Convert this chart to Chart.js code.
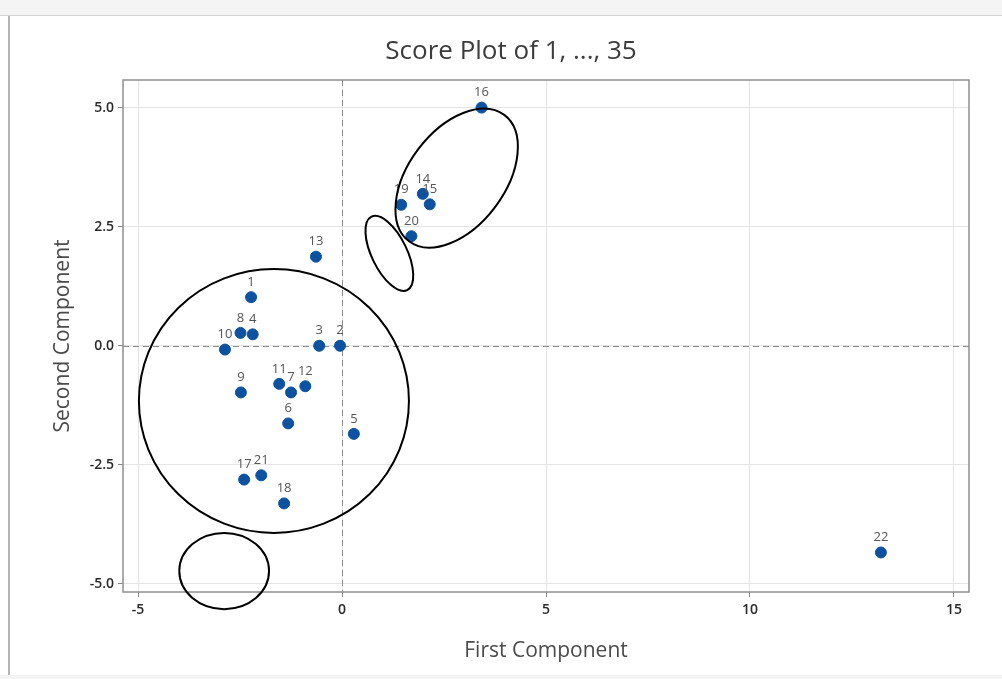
<!DOCTYPE html>
<html>
<head>
<meta charset="utf-8">
<script src="https://cdn.jsdelivr.net/npm/chart.js@4"></script>
<style>
  body { margin: 0; background: #fff; width: 1002px; height: 679px; overflow: hidden; position: relative; }
  .strip-top { position: absolute; left: 0; top: 0; width: 1002px; height: 15px; background: #f4f4f4; border-bottom: 1px solid #d2d2d2; }
  .edge-left { position: absolute; left: 8px; top: 16px; width: 2px; height: 659px; background: #b4b4b4; }
  .strip-bottom { position: absolute; left: 0; top: 675px; width: 1002px; height: 4px; background: #f4f4f4; }
  canvas { position: absolute; left: 0; top: 0; }
</style>
</head>
<body>
<div class="strip-top"></div>
<div class="edge-left"></div>
<div class="strip-bottom"></div>
<canvas id="myChart" width="1002" height="679"></canvas>
<script>
const obsLabels = ['1', '2', '3', '4', '5', '6', '7', '8', '9', '10', '11',
  '12', '13', '14', '15', '16', '17', '18', '19', '20', '21', '22'];
const firstComponent = [-2.23, -0.05, -0.56, -2.19, 0.29, -1.32, -1.25, -2.49, -2.48, -2.87, -1.54,
  -0.90, -0.64, 1.98, 2.15, 3.42, -2.40, -1.42, 1.45, 1.70, -1.98, 13.21];
const secondComponent = [1.02, 0.0, 0.0, 0.24, -1.85, -1.63, -0.98, 0.27, -0.98, -0.08, -0.80,
  -0.85, 1.87, 3.19, 2.97, 5.0, -2.81, -3.31, 2.96, 2.30, -2.72, -4.34];
const xTicks = [-5, 0, 5, 10, 15];
const yTicks = [-5, -2.5, 0, 2.5, 5];

// hand-drawn rings on the original (centre in data units, radii in axis units)
const rings = [
  { x: -1.67, y: -1.16, rx: 3.31, ry: 2.77, angle: 0 },
  { x: -2.89, y: -4.73, rx: 1.10, ry: 0.80, angle: 0 },
  { x: 2.81, y: 3.52, rx: 1.94, ry: 1.01, angle: -53 },
  { x: 1.16, y: 1.94, rx: 1.00, ry: 0.37, angle: 64 }
];

const fontFamily = "'Open Sans', 'Noto Sans', sans-serif";

const points = firstComponent.map((v, i) => ({ x: v, y: secondComponent[i] }));

const plotExtras = {
  id: 'plotExtras',
  beforeDatasetsDraw(chart) {
    const { ctx, chartArea: a, scales: { x, y } } = chart;
    ctx.save();
    // reference lines at zero
    ctx.strokeStyle = '#8c8c8c';
    ctx.lineWidth = 1;
    ctx.setLineDash([6, 4]);
    const x0 = Math.round(x.getPixelForValue(0)) + 0.5;
    const y0 = Math.round(y.getPixelForValue(0)) + 0.5;
    ctx.beginPath();
    ctx.moveTo(x0, a.top);
    ctx.lineTo(x0, a.bottom);
    ctx.moveTo(a.left, y0);
    ctx.lineTo(a.right, y0);
    ctx.stroke();
    ctx.setLineDash([]);
    // frame
    ctx.strokeStyle = '#8f8f8f';
    ctx.lineWidth = 1.5;
    ctx.strokeRect(a.left, a.top, a.right - a.left, a.bottom - a.top);
    ctx.restore();
  },
  afterDatasetsDraw(chart) {
    const { ctx, scales: { x, y } } = chart;
    const meta = chart.getDatasetMeta(0);
    ctx.save();
    ctx.fillStyle = '#555';
    ctx.font = '13px ' + fontFamily;
    ctx.textAlign = 'center';
    ctx.textBaseline = 'middle';
    meta.data.forEach((pt, i) => {
      ctx.fillText(obsLabels[i], pt.x, pt.y - 15);
    });
    // rings
    ctx.strokeStyle = '#000';
    ctx.lineWidth = 2;
    rings.forEach(r => {
      const cx = x.getPixelForValue(r.x);
      const cy = y.getPixelForValue(r.y);
      const rx = Math.abs(x.getPixelForValue(r.x + r.rx) - cx);
      const ry = Math.abs(y.getPixelForValue(r.y + r.ry) - cy);
      ctx.beginPath();
      ctx.ellipse(cx, cy, rx, ry, r.angle * Math.PI / 180, 0, Math.PI * 2);
      ctx.stroke();
    });
    ctx.restore();
  }
};

const ctx = document.getElementById('myChart').getContext('2d');
const chart = new Chart(ctx, {
  type: 'scatter',
  data: {
    datasets: [{
      data: points,
      backgroundColor: '#0c52a0',
      borderColor: '#0c52a0',
      pointRadius: 5.5,
      pointHoverRadius: 5.5
    }]
  },
  options: {
    responsive: false,
    animation: false,
    events: [],
    layout: { padding: { left: 53, right: 33, top: 0, bottom: 0 } },
    plugins: {
      legend: { display: false },
      tooltip: { enabled: false },
      title: {
        display: true,
        text: 'Score Plot of 1, ..., 35',
        color: '#3c3c3c',
        font: { family: fontFamily, size: 26, weight: 'normal' },
        padding: { top: 35.5, bottom: 13.3 }
      }
    },
    scales: {
      x: {
        type: 'linear',
        min: -5.37,
        max: 15.37,
        afterFit: (scale) => { scale.height = 87; },
        afterBuildTicks: (scale) => { scale.ticks = xTicks.map(v => ({ value: v })); },
        ticks: {
          color: '#2a2a2a',
          font: { family: fontFamily, size: 14, weight: '600' },
          padding: 5,
          maxRotation: 0,
          callback: (v) => String(v)
        },
        grid: { color: '#e4e4e4', tickColor: '#888', tickLength: 5 },
        border: { display: false },
        title: {
          display: true,
          text: 'First Component',
          color: '#4a4a4a',
          font: { family: fontFamily, size: 21 },
          padding: { top: 0, bottom: 15.4 }
        }
      },
      y: {
        type: 'linear',
        min: -5.17,
        max: 5.58,
        afterFit: (scale) => { scale.width = 70; },
        afterBuildTicks: (scale) => { scale.ticks = yTicks.map(v => ({ value: v })); },
        ticks: {
          color: '#2a2a2a',
          font: { family: fontFamily, size: 14, weight: '600' },
          padding: 4,
          callback: (v) => Number(v).toFixed(1)
        },
        grid: { color: '#e4e4e4', tickColor: '#888', tickLength: 5 },
        border: { display: false },
        title: {
          display: true,
          text: 'Second Component',
          color: '#4a4a4a',
          font: { family: fontFamily, size: 21, lineHeight: 1.0 },
          padding: { top: 0, bottom: 0 }
        }
      }
    }
  },
  plugins: [plotExtras]
});
</script>
</body>
</html>
